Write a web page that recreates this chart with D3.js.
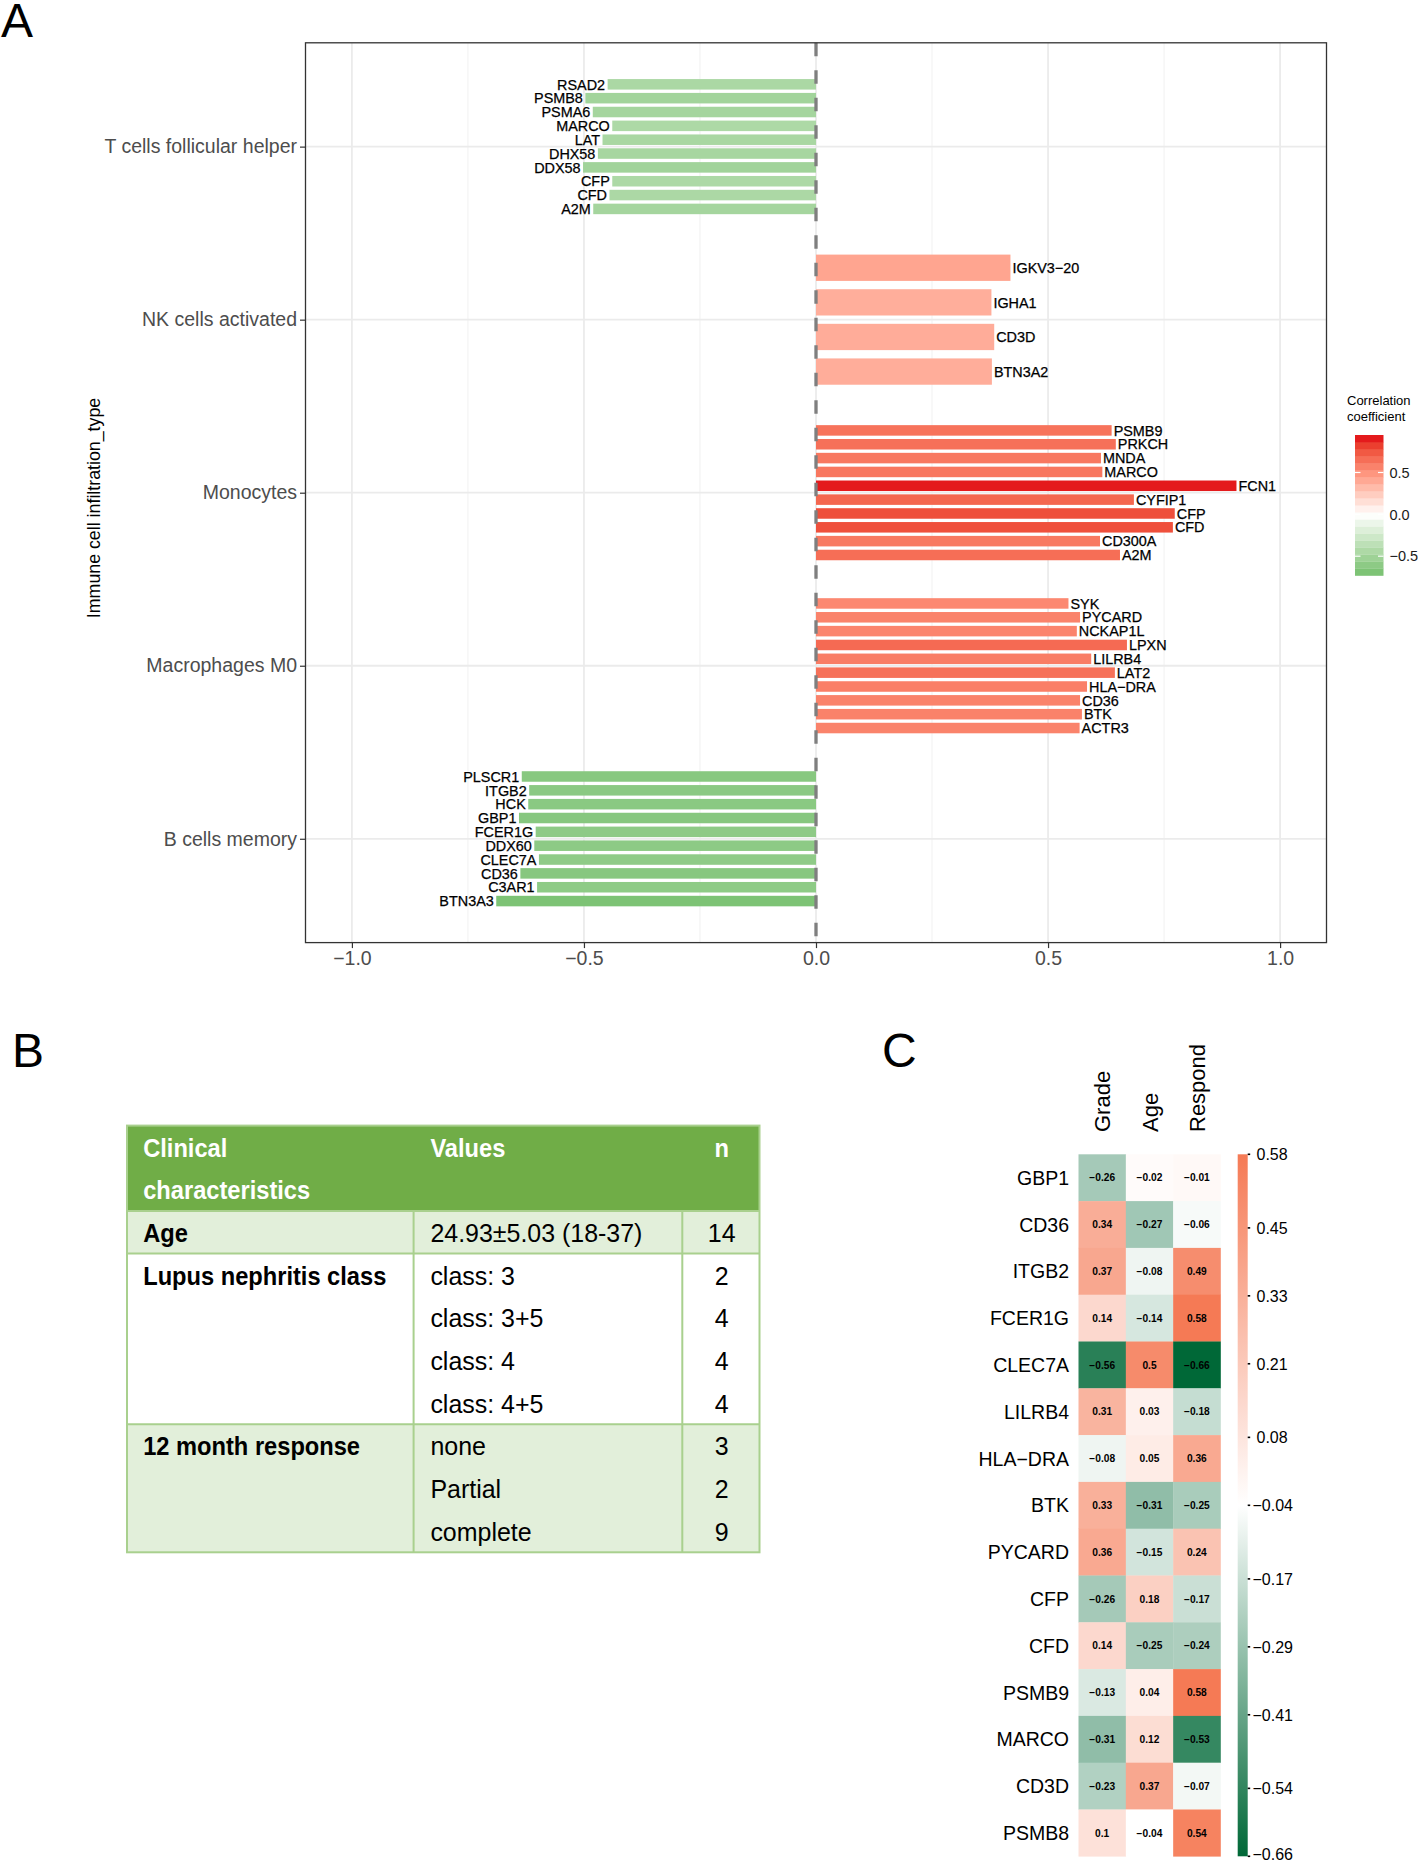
<!DOCTYPE html>
<html><head><meta charset="utf-8">
<script src="https://cdn.jsdelivr.net/npm/d3@7"></script>
<style>
body{margin:0;background:#fff}
svg{display:block}
text{font-family:"Liberation Sans",Arial,Helvetica,sans-serif}
</style>
</head><body>
<svg id="fig" width="1418" height="1863"></svg>
<script>
// ---------------- Panel A data ----------------
const cellTypes = ["T cells follicular helper","NK cells activated","Monocytes","Macrophages M0","B cells memory"];
const tfhGenes = ["RSAD2","PSMB8","PSMA6","MARCO","LAT","DHX58","DDX58","CFP","CFD","A2M"];
const tfhCor   = [-0.449,-0.497,-0.481,-0.439,-0.460,-0.470,-0.502,-0.439,-0.445,-0.480];
const nkGenes  = ["IGKV3-20","IGHA1","CD3D","BTN3A2"];
const nkCor    = [0.419,0.378,0.384,0.379];
const monoGenes= ["PSMB9","PRKCH","MNDA","MARCO","FCN1","CYFIP1","CFP","CFD","CD300A","A2M"];
const monoCor  = [0.637,0.646,0.614,0.617,0.906,0.685,0.773,0.769,0.612,0.655];
const m0Genes  = ["SYK","PYCARD","NCKAP1L","LPXN","LILRB4","LAT2","HLA-DRA","CD36","BTK","ACTR3"];
const m0Cor    = [0.544,0.569,0.562,0.670,0.593,0.644,0.584,0.569,0.573,0.568];
const bmemGenes= ["PLSCR1","ITGB2","HCK","GBP1","FCER1G","DDX60","CLEC7A","CD36","C3AR1","BTN3A3"];
const bmemCor  = [-0.634,-0.618,-0.620,-0.640,-0.604,-0.607,-0.597,-0.637,-0.601,-0.689];
const xTicks   = [-1.0,-0.5,0.0,0.5,1.0];
const xMinor   = [-0.75,-0.25,0.25,0.75];
const legendTicks = [0.5,0.0,-0.5];

// ---------------- Panel B data ----------------
const tableHeader = [["Clinical","characteristics"],["Values"],["n"]];
const charLabels  = ["Age","Lupus nephritis class","12 month response"];
const charValues  = [["24.93±5.03 (18-37)"],["class: 3","class: 3+5","class: 4","class: 4+5"],["none","Partial","complete"]];
const charN       = [[14],[2,4,4,4],[3,2,9]];

// ---------------- Panel C data ----------------
const heatGenes = ["GBP1","CD36","ITGB2","FCER1G","CLEC7A","LILRB4","HLA-DRA","BTK","PYCARD","CFP","CFD","PSMB9","MARCO","CD3D","PSMB8"];
const heatVars  = ["Grade","Age","Respond"];
const gradeCor  = [-0.26,0.34,0.37,0.14,-0.56,0.31,-0.08,0.33,0.36,-0.26,0.14,-0.13,-0.31,-0.23,0.1];
const ageCor    = [-0.02,-0.27,-0.08,-0.14,0.5,0.03,0.05,-0.31,-0.15,0.18,-0.25,0.04,0.12,0.37,-0.04];
const respondCor= [-0.01,-0.06,0.49,0.58,-0.66,-0.18,0.36,-0.25,0.24,-0.17,-0.24,0.58,-0.53,-0.07,0.54];
const heatTicks = [0.58,0.45,0.33,0.21,0.08,-0.04,-0.17,-0.29,-0.41,-0.54,-0.66];

// =====================================================
const svg = d3.select("#fig");
const minus = s => String(s).replace(/-/g,"\u2212");

// panel letters
[["A",1,37],["B",12,1067],["C",882,1067]].forEach(([t,lx,ly])=>{
  svg.append("text").attr("x",lx).attr("y",ly).attr("font-size",48).attr("fill","#000").text(t);
});

// ---------------- Panel A ----------------
const A = {left:305.5, right:1326.5, top:42.8, bottom:942.6};
const x = d3.scaleLinear().domain([-1.1,1.1]).range([A.left,A.right]);
const y = d3.scalePoint().domain(cellTypes).range([A.top,A.bottom]).padding(0.6);
const groups = [
  {type:cellTypes[0], genes:tfhGenes, cor:tfhCor},
  {type:cellTypes[1], genes:nkGenes, cor:nkCor},
  {type:cellTypes[2], genes:monoGenes, cor:monoCor},
  {type:cellTypes[3], genes:m0Genes, cor:m0Cor},
  {type:cellTypes[4], genes:bmemGenes, cor:bmemCor}
];
const allCor = groups.flatMap(g=>g.cor);
const M = d3.max(allCor, v=>Math.abs(v));
const fill = d3.scaleLinear().domain([-M,0,M]).range(["#4DAF4A","#ffffff","#E41A1C"]).interpolate(d3.interpolateLab);

const gA = svg.append("g");
// grid
gA.selectAll(".minor").data(xMinor).enter().append("line")
  .attr("x1",d=>x(d)).attr("x2",d=>x(d)).attr("y1",A.top).attr("y2",A.bottom)
  .attr("stroke","#f2f2f2").attr("stroke-width",1.1);
gA.selectAll(".majorx").data(xTicks).enter().append("line")
  .attr("x1",d=>x(d)).attr("x2",d=>x(d)).attr("y1",A.top).attr("y2",A.bottom)
  .attr("stroke","#ebebeb").attr("stroke-width",1.8);
gA.selectAll(".majory").data(cellTypes).enter().append("line")
  .attr("x1",A.left).attr("x2",A.right).attr("y1",d=>y(d)).attr("y2",d=>y(d))
  .attr("stroke","#ebebeb").attr("stroke-width",1.8);

// bars
const step = y.step();
groups.forEach(g=>{
  const inner = d3.scaleBand().domain(g.genes)
    .range([y(g.type)-0.4*step, y(g.type)+0.4*step]).paddingInner(0.24).paddingOuter(0.12);
  const data = g.genes.map((gene,i)=>({gene, v:g.cor[i]}));
  gA.selectAll(null).data(data).enter().append("rect")
    .attr("x",d=>Math.min(x(0),x(d.v))).attr("width",d=>Math.abs(x(d.v)-x(0)))
    .attr("y",d=>inner(d.gene)).attr("height",inner.bandwidth())
    .attr("fill",d=>fill(d.v));
  gA.selectAll(null).data(data).enter().append("text")
    .attr("x",d=>d.v<0 ? x(d.v)-2.5 : x(d.v)+2)
    .attr("y",d=>inner(d.gene)+inner.bandwidth()/2).attr("dy","0.36em")
    .attr("text-anchor",d=>d.v<0?"end":"start")
    .attr("font-size",14.4).attr("fill","#000").attr("stroke","#000").attr("stroke-width",0.25)
    .text(d=>minus(d.gene));
});
// zero line
gA.append("line").attr("x1",x(0)).attr("x2",x(0)).attr("y1",A.top).attr("y2",A.bottom)
  .attr("stroke","#7f7f7f").attr("stroke-width",3.3).attr("stroke-dasharray","13.5,14");
// border
gA.append("rect").attr("x",A.left).attr("y",A.top).attr("width",A.right-A.left).attr("height",A.bottom-A.top)
  .attr("fill","none").attr("stroke","#333").attr("stroke-width",1.3);

// axes
const xAxis = gA.append("g").attr("transform",`translate(0,${A.bottom})`)
  .call(d3.axisBottom(x).tickValues(xTicks).tickFormat(d3.format(".1f")).tickSize(5.5).tickPadding(3));
xAxis.select(".domain").remove();
xAxis.selectAll("line").attr("stroke","#333").attr("stroke-width",1.2);
xAxis.selectAll("text").attr("font-size",19.5).attr("fill","#4d4d4d").attr("font-family",'"Liberation Sans",Arial,sans-serif');
const yAxis = gA.append("g").attr("transform",`translate(${A.left},0)`)
  .call(d3.axisLeft(y).tickSize(5.5).tickPadding(3));
yAxis.select(".domain").remove();
yAxis.selectAll("line").attr("stroke","#333").attr("stroke-width",1.2);
yAxis.selectAll("text").attr("font-size",19.5).attr("fill","#4d4d4d").attr("font-family",'"Liberation Sans",Arial,sans-serif');

gA.append("text").attr("transform","translate(99.5,508) rotate(-90)").attr("text-anchor","middle")
  .attr("font-size",17.8).attr("fill","#000").text("Immune cell infiltration_type");

// legend
const L = {x:1355, w:28.5, top:435, bottom:575.5};
gA.append("text").attr("x",1347).attr("y",405).attr("font-size",13).attr("fill","#000").text("Correlation");
gA.append("text").attr("x",1347).attr("y",420.5).attr("font-size",13).attr("fill","#000").text("coefficient");
const nbin = 20;
const lims = d3.extent(allCor);
const bstep = (lims[1]-lims[0])/(nbin-1);
const ly = d3.scaleLinear().domain([lims[0]-bstep/2, lims[1]+bstep/2]).range([L.bottom,L.top]);
const bins = d3.range(nbin).map(i=>lims[0]+i*bstep);
gA.selectAll(null).data(bins).enter().append("rect")
  .attr("x",L.x).attr("width",L.w)
  .attr("y",d=>ly(d+bstep/2)).attr("height",d=>ly(d-bstep/2)-ly(d+bstep/2)+0.3)
  .attr("fill",d=>fill(d));
legendTicks.forEach(t=>{
  gA.append("line").attr("x1",L.x).attr("x2",L.x+5.5).attr("y1",ly(t)).attr("y2",ly(t)).attr("stroke","#fff").attr("stroke-width",1.2);
  gA.append("line").attr("x1",L.x+L.w-5.5).attr("x2",L.x+L.w).attr("y1",ly(t)).attr("y2",ly(t)).attr("stroke","#fff").attr("stroke-width",1.2);
  gA.append("text").attr("x",1389.5).attr("y",ly(t)).attr("dy","0.36em").attr("font-size",14.5).attr("fill","#1a1a1a")
    .text(d3.format(".1f")(t));
});

// ---------------- Panel B (table) ----------------
const T = {left:127, right:759.5, top:1125.6, lineH:42.67, col1:413.6, col2:682.3, textX:143.2, valX:430.4, nX:721.7, base:31.2};
const gB = svg.append("g");
const tFont = '"Noto Sans","Open Sans",sans-serif';
const green = "#70AD47", light = "#E2EFDA", border = "#A9D08E";
const lineTop = k => T.top + k*T.lineH;
function tText(txt, xx, k, bold, anchor, color){
  gB.append("text").attr("transform",`translate(${xx},${lineTop(k)+T.base}) scale(${bold?0.91:0.96},1)`)
    .attr("font-family",tFont).attr("font-size",26).attr("font-weight",bold?700:400)
    .attr("text-anchor",anchor||"start").attr("fill",color||"#000").text(txt);
}
// header
gB.append("rect").attr("x",T.left).attr("y",lineTop(0)).attr("width",T.right-T.left).attr("height",2*T.lineH).attr("fill",green);
// group blocks
let k0 = 2;
const blocks = charLabels.map((lab,i)=>{ const b={lab, start:k0, n:charValues[i].length, i}; k0 += charValues[i].length; return b; });
blocks.forEach(b=>{
  gB.append("rect").attr("x",T.left).attr("y",lineTop(b.start)).attr("width",T.right-T.left).attr("height",b.n*T.lineH)
    .attr("fill", b.i%2===0 ? light : "#ffffff");
});
// lines
blocks.forEach(b=>{
  gB.append("line").attr("x1",T.left).attr("x2",T.right).attr("y1",lineTop(b.start)).attr("y2",lineTop(b.start))
    .attr("stroke",border).attr("stroke-width",2);
});
const tBottom = lineTop(k0);
[T.col1,T.col2].forEach(cx=>{
  gB.append("line").attr("x1",cx).attr("x2",cx).attr("y1",lineTop(2)).attr("y2",tBottom).attr("stroke",border).attr("stroke-width",2);
});
gB.append("rect").attr("x",T.left).attr("y",T.top).attr("width",T.right-T.left).attr("height",tBottom-T.top)
  .attr("fill","none").attr("stroke",border).attr("stroke-width",2);
// header text
tableHeader[0].forEach((t,j)=>tText(t,T.textX,j,true,"start","#fff"));
tText(tableHeader[1][0],T.valX,0,true,"start","#fff");
tText(tableHeader[2][0],T.nX,0,true,"middle","#fff");
// body text
blocks.forEach(b=>{
  tText(b.lab,T.textX,b.start,true);
  charValues[b.i].forEach((v,j)=>tText(v,T.valX,b.start+j,false));
  charN[b.i].forEach((v,j)=>tText(String(v),T.nX,b.start+j,false,"middle"));
});

// ---------------- Panel C (heatmap) ----------------
const H = {left:1078.5, right:1220.5, top:1154.3, bottom:1856.3, cbX:1237.7, cbW:10};
const gC = svg.append("g");
const hx = d3.scaleBand().domain(heatVars).range([H.left,H.right]);
const hy = d3.scaleBand().domain(heatGenes).range([H.top,H.bottom]);
const heatCols = [gradeCor, ageCor, respondCor];
const heatAll = heatCols.flat();
const hExt = d3.extent(heatAll);
const hMid = (hExt[0]+hExt[1])/2;
const hFill = d3.scaleLinear().domain([hExt[0],hMid,hExt[1]]).range(["#006837","#ffffff","#F57A55"]);
const cells = [];
heatGenes.forEach((g,i)=>heatVars.forEach((v,j)=>cells.push({g,v,val:heatCols[j][i]})));
gC.selectAll(null).data(cells).enter().append("rect")
  .attr("x",d=>hx(d.v)).attr("y",d=>hy(d.g)).attr("width",hx.bandwidth()+0.3).attr("height",hy.bandwidth()+0.3)
  .attr("fill",d=>hFill(d.val));
gC.selectAll(null).data(cells).enter().append("text")
  .attr("x",d=>hx(d.v)+hx.bandwidth()/2).attr("y",d=>hy(d.g)+hy.bandwidth()/2).attr("dy","0.36em")
  .attr("text-anchor","middle").attr("font-size",10.2).attr("font-weight",700).attr("fill","#000")
  .text(d=>minus(d.val));
// row labels
gC.selectAll(null).data(heatGenes).enter().append("text")
  .attr("x",1069).attr("y",d=>hy(d)+hy.bandwidth()/2).attr("dy","0.36em").attr("text-anchor","end")
  .attr("font-size",19.5).attr("fill","#000").text(d=>minus(d));
// column labels
gC.selectAll(null).data(heatVars).enter().append("text")
  .attr("transform",d=>`translate(${hx(d)+hx.bandwidth()/2+8},1132) rotate(-90)`)
  .attr("font-size",22).attr("fill","#000").text(d=>d);
// colorbar
const cby = d3.scaleLinear().domain(hExt).range([H.bottom,H.top]);
const defs = svg.append("defs");
const grad = defs.append("linearGradient").attr("id","hgrad").attr("x1",0).attr("x2",0).attr("y1",1).attr("y2",0);
d3.range(0,1.0001,0.05).forEach(t=>{
  const v = hExt[0]+t*(hExt[1]-hExt[0]);
  grad.append("stop").attr("offset",t).attr("stop-color",hFill(v));
});
gC.append("rect").attr("x",H.cbX).attr("y",H.top).attr("width",H.cbW).attr("height",H.bottom-H.top).attr("fill","url(#hgrad)");
heatTicks.forEach(t=>{
  gC.append("line").attr("x1",H.cbX+H.cbW).attr("x2",H.cbX+H.cbW+2.5).attr("y1",cby(t)).attr("y2",cby(t)).attr("stroke","#000").attr("stroke-width",1.6);
  gC.append("text").attr("x",t<0?1252.5:1256.5).attr("y",cby(t)).attr("dy",t===hExt[0]?"0.2em":"0.36em")
    .attr("font-size",16).attr("fill","#000").text(minus(t));
});
</script>
</body></html>
